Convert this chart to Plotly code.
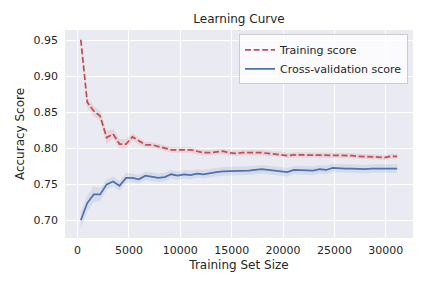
import plotly.graph_objects as go

train_sizes = [311, 939, 1568, 2196, 2824, 3453, 4081, 4709, 5338, 5966,
               6595, 7223, 7851, 8480, 9108, 9736, 10365, 10993, 11621, 12250,
               12878, 13506, 14135, 14763, 15391, 16020, 16648, 17276, 17905, 18533,
               19162, 19790, 20418, 21047, 21675, 22303, 22932, 23560, 24188, 24817,
               25445, 26073, 26702, 27330, 27958, 28587, 29215, 29843, 30472, 31100]

train_mean = [0.951, 0.864, 0.852, 0.845, 0.815, 0.820, 0.806, 0.806, 0.816, 0.810,
              0.805, 0.805, 0.803, 0.800, 0.798, 0.798, 0.798, 0.798, 0.796, 0.794,
              0.794, 0.795, 0.796, 0.794, 0.793, 0.794, 0.794, 0.795, 0.794, 0.793,
              0.792, 0.792, 0.790, 0.791, 0.791, 0.790, 0.791, 0.790, 0.790, 0.790,
              0.791, 0.790, 0.790, 0.789, 0.789, 0.789, 0.788, 0.787, 0.789, 0.789]

train_std = [0.002, 0.007, 0.007, 0.007, 0.009, 0.007, 0.007, 0.007, 0.005, 0.005,
             0.004, 0.004, 0.004, 0.004, 0.004, 0.004, 0.004, 0.004, 0.004, 0.004,
             0.004, 0.004, 0.004, 0.004, 0.004, 0.004, 0.004, 0.004, 0.004, 0.004,
             0.0035, 0.0035, 0.0035, 0.0035, 0.0035, 0.0035, 0.0035, 0.0035, 0.0035, 0.0035,
             0.0035, 0.0035, 0.0035, 0.0035, 0.0035, 0.0035, 0.0035, 0.0035, 0.0035, 0.0035]

cv_mean = [0.700, 0.724, 0.736, 0.736, 0.750, 0.754, 0.748, 0.759, 0.759, 0.757,
           0.762, 0.761, 0.759, 0.760, 0.764, 0.762, 0.764, 0.763, 0.765, 0.764,
           0.766, 0.767, 0.768, 0.768, 0.768, 0.769, 0.769, 0.770, 0.771, 0.770,
           0.769, 0.768, 0.767, 0.770, 0.770, 0.769, 0.769, 0.771, 0.770, 0.773,
           0.772, 0.772, 0.772, 0.771, 0.771, 0.772, 0.772, 0.773, 0.772, 0.772]

cv_std = [0.012, 0.011, 0.011, 0.009, 0.007, 0.007, 0.007, 0.007, 0.006, 0.006,
          0.006, 0.006, 0.006, 0.006, 0.006, 0.006, 0.006, 0.006, 0.006, 0.006,
          0.006, 0.006, 0.006, 0.006, 0.006, 0.006, 0.006, 0.006, 0.006, 0.006,
          0.006, 0.006, 0.006, 0.006, 0.006, 0.006, 0.006, 0.006, 0.006, 0.006,
          0.006, 0.006, 0.006, 0.006, 0.006, 0.006, 0.006, 0.006, 0.006, 0.006]

x_ticks = [0, 5000, 10000, 15000, 20000, 25000, 30000]
y_ticks = [0.70, 0.75, 0.80, 0.85, 0.90, 0.95]

RED = "#C44E52"
BLUE = "#4C72B0"
TXT = "#262626"
FONT = "DejaVu Sans"

fig = go.Figure()

def band(mean, std, rgba):
    lo = [m - s for m, s in zip(mean, std)]
    hi = [m + s for m, s in zip(mean, std)]
    fig.add_trace(go.Scatter(x=train_sizes, y=lo, mode="lines", line=dict(width=0),
                             showlegend=False, hoverinfo="skip"))
    fig.add_trace(go.Scatter(x=train_sizes, y=hi, mode="lines", line=dict(width=0),
                             fill="tonexty", fillcolor=rgba, showlegend=False, hoverinfo="skip"))

band(train_mean, train_std, "rgba(196,78,82,0.12)")
band(cv_mean, cv_std, "rgba(76,114,176,0.12)")

fig.add_trace(go.Scatter(x=train_sizes, y=train_mean, mode="lines", name="Training score",
                         line=dict(color=RED, width=1.75, dash="6px,2.6px")))
fig.add_trace(go.Scatter(x=train_sizes, y=cv_mean, mode="lines", name="Cross-validation score",
                         line=dict(color=BLUE, width=1.75)))

fig.update_layout(
    width=432, height=288,
    margin=dict(l=65, r=19, t=30, b=50),
    paper_bgcolor="white", plot_bgcolor="#EAEAF2",
    font=dict(family=FONT, size=11, color=TXT),
    title=dict(text="Learning Curve", x=0.5533, xanchor="center", y=1 - 19 / 288, yanchor="middle",
               font=dict(size=12, color=TXT, family=FONT)),
    legend=dict(x=0.9856, xanchor="right", y=0.979, yanchor="top", traceorder="normal",
                bgcolor="rgba(255,255,255,0.8)", bordercolor="#CCCCCC", borderwidth=1,
                font=dict(size=11, color=TXT, family=FONT), tracegroupgap=0),
    showlegend=True,
)
fig.update_xaxes(range=[-1228, 32640], tickvals=x_ticks, ticktext=[str(v) for v in x_ticks],
                 showgrid=True, gridcolor="white", gridwidth=1, zeroline=False, showline=False,
                 ticks="", ticklabelstandoff=4, automargin=False,
                 title=dict(text="Training Set Size", font=dict(size=12, color=TXT, family=FONT), standoff=4))
fig.update_yaxes(range=[0.6754, 0.9646], tickvals=y_ticks, ticktext=[f"{v:.2f}" for v in y_ticks],
                 showgrid=True, gridcolor="white", gridwidth=1, zeroline=False, showline=False,
                 ticks="", ticklabelstandoff=6, automargin=False,
                 title=dict(text="Accuracy Score", font=dict(size=12, color=TXT, family=FONT), standoff=6))

fig.write_html("out.html", config={"displayModeBar": False},
               post_script="document.body.style.margin='0px';")
